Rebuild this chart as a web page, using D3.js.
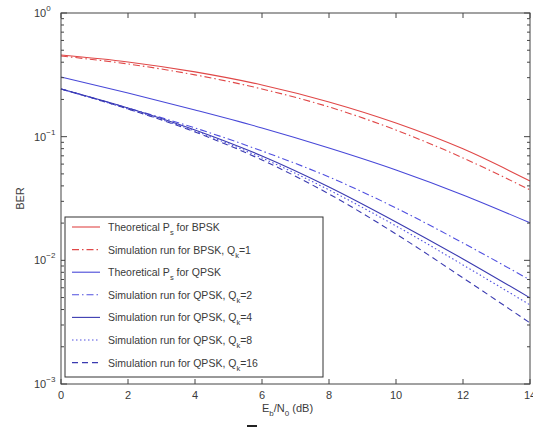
<!DOCTYPE html>
<html lang="en">
<head>
<meta charset="UTF-8">
<title>BER</title>
<script src="https://d3js.org/d3.v7.min.js"></script>
<style>
  body { margin: 0; background: #fff; }
  text { font-family: "Liberation Sans", Arial, sans-serif; fill: #3a3a3a; }
</style>
</head>
<body>
<script>
// Eb/N0 points (dB)
var ebn0 = [0, 2, 4, 6, 8, 10, 12, 14];

// BPSK
var bpskTheory = [0.457, 0.402, 0.334, 0.262, 0.191, 0.129, 0.0797, 0.0438];
var bpskSimQ1  = [0.449, 0.387, 0.316, 0.243, 0.174, 0.113, 0.0673, 0.0371];

// QPSK
var qpskTheory = [0.304, 0.2256, 0.1643, 0.1176, 0.081, 0.0538, 0.0338, 0.0201];
var qpskSimQ2  = [0.243, 0.1706, 0.1176, 0.0766, 0.0472, 0.0265, 0.01382, 0.00694];
var qpskSimQ4  = [0.243, 0.1706, 0.1133, 0.0698, 0.0392, 0.02044, 0.01026, 0.00497];
var qpskSimQ8  = [0.243, 0.1674, 0.1112, 0.0673, 0.0371, 0.01897, 0.00918, 0.00436];
var qpskSimQ16 = [0.243, 0.1674, 0.1091, 0.0648, 0.0344, 0.01634, 0.00721, 0.00312];

var xTicks = [0, 2, 4, 6, 8, 10, 12, 14];
var yExps = [0, -1, -2, -3];

var series = [
  { name: 'Theoretical P', sub: 's', tail: ' for BPSK', vals: bpskTheory, color: '#e04848', dash: null },
  { name: 'Simulation run for BPSK, Q', sub: 'k', tail: '=1', vals: bpskSimQ1, color: '#e04848', dash: '7,3,1.5,3' },
  { name: 'Theoretical P', sub: 's', tail: ' for QPSK', vals: qpskTheory, color: '#4848d8', dash: null },
  { name: 'Simulation run for QPSK, Q', sub: 'k', tail: '=2', vals: qpskSimQ2, color: '#5050e0', dash: '7,3,1.5,3' },
  { name: 'Simulation run for QPSK, Q', sub: 'k', tail: '=4', vals: qpskSimQ4, color: '#3a3ab0', dash: null },
  { name: 'Simulation run for QPSK, Q', sub: 'k', tail: '=8', vals: qpskSimQ8, color: '#5050e0', dash: '1.5,2.5' },
  { name: 'Simulation run for QPSK, Q', sub: 'k', tail: '=16', vals: qpskSimQ16, color: '#3a3ab0', dash: '6,4' }
];

var W = 533, H = 428;
var pLeft = 61, pRight = 530, pTop = 13, pBottom = 384;

var svg = d3.select('body').append('svg')
    .attr('width', W)
    .attr('height', H);

var x = d3.scaleLinear().domain([0, 14]).range([pLeft, pRight]);
var y = d3.scaleLog().domain([1e-3, 1]).range([pBottom, pTop]);

// curves
var line = d3.line()
    .x(function(d) { return x(d[0]); })
    .y(function(d) { return y(d[1]); })
    .curve(d3.curveMonotoneX);

var g = svg.append('g');
series.forEach(function(s) {
  var pts = ebn0.map(function(e, i) { return [e, s.vals[i]]; });
  g.append('path')
    .attr('d', line(pts))
    .attr('fill', 'none')
    .attr('stroke', s.color)
    .attr('stroke-width', 1.1)
    .attr('stroke-dasharray', s.dash);
});

// axes box with inward ticks (matlab style)
var axisColor = '#444';
svg.append('rect')
    .attr('x', pLeft).attr('y', pTop)
    .attr('width', pRight - pLeft).attr('height', pBottom - pTop)
    .attr('fill', 'none').attr('stroke', axisColor).attr('stroke-width', 1);

xTicks.forEach(function(t) {
  svg.append('line').attr('x1', x(t)).attr('x2', x(t)).attr('y1', pBottom).attr('y2', pBottom - 5).attr('stroke', axisColor);
  svg.append('line').attr('x1', x(t)).attr('x2', x(t)).attr('y1', pTop).attr('y2', pTop + 5).attr('stroke', axisColor);
  svg.append('text')
    .attr('x', x(t)).attr('y', pBottom + 15)
    .attr('text-anchor', 'middle')
    .attr('font-size', 11)
    .text(t);
});

// y ticks: minors
for (var e = -3; e < 0; e++) {
  for (var m = 2; m <= 9; m++) {
    var v = m * Math.pow(10, e);
    svg.append('line').attr('x1', pLeft).attr('x2', pLeft + 3).attr('y1', y(v)).attr('y2', y(v)).attr('stroke', axisColor);
    svg.append('line').attr('x1', pRight).attr('x2', pRight - 3).attr('y1', y(v)).attr('y2', y(v)).attr('stroke', axisColor);
  }
}
// majors + labels
yExps.forEach(function(p) {
  var v = Math.pow(10, p);
  svg.append('line').attr('x1', pLeft).attr('x2', pLeft + 6).attr('y1', y(v)).attr('y2', y(v)).attr('stroke', axisColor);
  svg.append('line').attr('x1', pRight).attr('x2', pRight - 6).attr('y1', y(v)).attr('y2', y(v)).attr('stroke', axisColor);
  var lab = svg.append('text')
    .attr('x', 34).attr('y', y(v) + 4)
    .attr('font-size', 11);
  lab.append('tspan').text('10');
  lab.append('tspan').attr('dy', -6).attr('font-size', 8).text(p === 0 ? '0' : String(p).replace('-', '\u2212'));
});

// axis labels
svg.append('text')
    .attr('transform', 'translate(24,' + ((pTop + pBottom) / 2) + ') rotate(-90)')
    .attr('text-anchor', 'middle')
    .attr('font-size', 11)
    .text('BER');

var xl = svg.append('text')
    .attr('x', 262).attr('y', 412)
    .attr('font-size', 11);
xl.append('tspan').text('E');
xl.append('tspan').attr('dy', 4).attr('font-size', 8).text('b');
xl.append('tspan').attr('dy', -4).text('/N');
xl.append('tspan').attr('dy', 4).attr('font-size', 8).text('0');
xl.append('tspan').attr('dy', -4).text(' (dB)');

// small stray mark under the x label
svg.append('line').attr('x1', 247).attr('x2', 257).attr('y1', 426).attr('y2', 426)
    .attr('stroke', '#222').attr('stroke-width', 2);

// legend
var lgX = 65, lgY = 217, lgW = 258, lgH = 160, rowH = 22.6;
var lg = svg.append('g');
lg.append('rect')
    .attr('x', lgX).attr('y', lgY).attr('width', lgW).attr('height', lgH)
    .attr('fill', '#fff').attr('stroke', '#333').attr('stroke-width', 1);

series.forEach(function(s, i) {
  var cy = lgY + 10 + i * rowH;
  lg.append('line')
    .attr('x1', 72).attr('x2', 100).attr('y1', cy).attr('y2', cy)
    .attr('stroke', s.color).attr('stroke-width', 1.1)
    .attr('stroke-dasharray', s.dash);
  var t = lg.append('text')
    .attr('x', 108).attr('y', cy + 4)
    .attr('font-size', 10.5);
  t.append('tspan').text(s.name);
  t.append('tspan').attr('dy', 4).attr('font-size', 7.5).text(s.sub);
  t.append('tspan').attr('dy', -4).text(s.tail);
});
</script>
</body>
</html>
